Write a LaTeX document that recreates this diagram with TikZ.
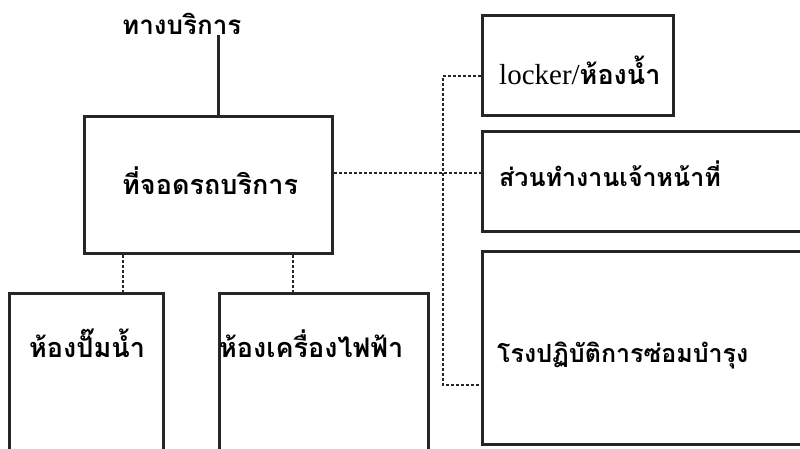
\documentclass[tikz,border=0pt]{standalone}
\usepackage{fontspec}
\newfontfamily\thaifont[Script=Thai]{Loma}
\newfontfamily\latinserif{Liberation Serif}
\tikzset{
  box/.style={draw=black!85, line width=3pt, rectangle, anchor=north west, inner sep=0pt},
  dashline/.style={draw=black!85, line width=1.4pt, dash pattern=on 3pt off 2pt},
  solidline/.style={draw=black!85, line width=2.4pt},
  lbl/.style={font=\thaifont\bfseries\fontsize{27}{30}\selectfont, inner sep=0pt, anchor=base west},
  smalllbl/.style={lbl, font=\thaifont\bfseries\fontsize{25}{28}\selectfont}
}
\begin{document}
\begin{tikzpicture}[x=1pt,y=-1pt]
\useasboundingbox (0,0) rectangle (800,449);
\clip (0,0) rectangle (800,449);
\fill[white] (0,0) rectangle (800,449);
% boxes
\node[box, minimum width=248pt, minimum height=137pt] (main) at (83,115) {};
\node[box, minimum width=191pt, minimum height=100pt] (locker) at (481,14) {};
\node[box, minimum width=340pt, minimum height=100pt] (staff) at (481,130) {};
\node[box, minimum width=340pt, minimum height=193pt] (workshop) at (481,250) {};
\node[box, minimum width=154pt, minimum height=175pt] (pump) at (8,292) {};
\node[box, minimum width=209pt, minimum height=175pt] (elec) at (218,292) {};
% labels
\node[lbl, font=\thaifont\bfseries\fontsize{26}{29}\selectfont] (entry) at (122,35) {ทางบริการ};
\node[lbl] (maintxt) at (122,195) {ที่จอดรถบริการ};
\node[lbl] (lockertxt) at (499,85) {{\latinserif\mdseries\fontsize{29}{31}\selectfont locker/}{\fontsize{27}{29}\selectfont ห้องน้ำ}};
\node[smalllbl] (stafftxt) at (499,187) {ส่วนทำงานเจ้าหน้าที่};
\node[smalllbl] (worktxt) at (497,362) {โรงปฏิบัติการซ่อมบำรุง};
\node[lbl] (pumptxt) at (29,357) {ห้องปั๊มน้ำ};
\node[lbl] (electxt) at (219,357) {ห้องเครื่องไฟฟ้า};
% connectors
\draw[solidline] ([xshift=10pt]main.north) -- ([xshift=10pt]main.north |- entry.south);
\coordinate (j) at (443,173);
\coordinate (jt) at (443,76);
\coordinate (jb) at (443,385);
\draw[dashline] (main.east |- j) -- (staff.west |- j);
\draw[dashline] (locker.west |- jt) -- (jt) -- (jb) -- (workshop.west |- jb);
\coordinate (p1) at (123,0);
\coordinate (p2) at (293,0);
\draw[dashline] (main.south -| p1) -- (pump.north -| p1);
\draw[dashline] (main.south -| p2) -- (elec.north -| p2);
\end{tikzpicture}
\end{document}
